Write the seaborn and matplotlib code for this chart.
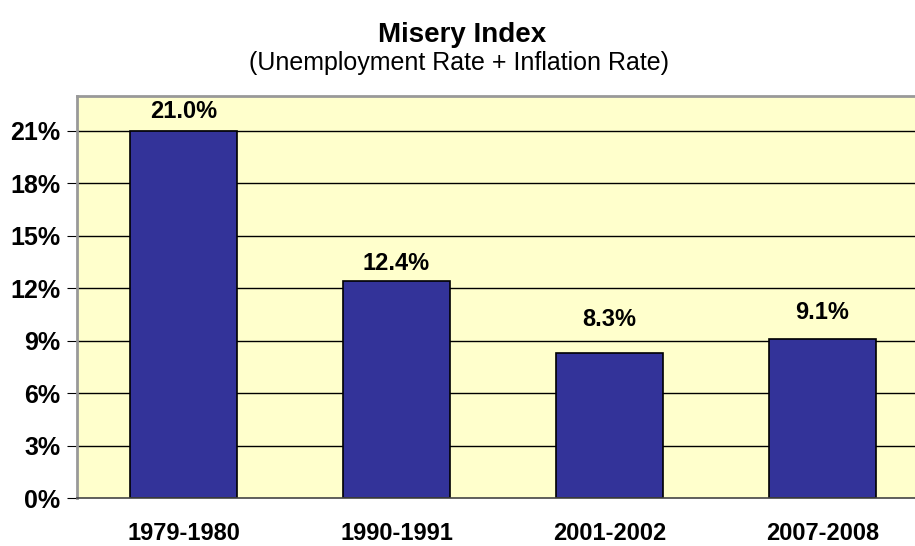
import matplotlib
matplotlib.use("Agg")
import matplotlib.pyplot as plt
import seaborn as sns
import pandas as pd

# chart values
periods = ["1979-1980", "1990-1991", "2001-2002", "2007-2008"]
misery = [21.0, 12.4, 8.3, 9.1]
y_ticks = [0, 3, 6, 9, 12, 15, 18, 21]

# label gap above each bar (points), as placed in the original
label_gap = [9.4, 8.0, 19.0, 14.0]

df = pd.DataFrame({"period": periods, "misery": misery})

sns.set_style("white")
plt.rcParams["font.family"] = ["Liberation Sans", "DejaVu Sans"]
plt.rcParams["text.color"] = "black"
plt.rcParams["xtick.color"] = "black"
plt.rcParams["ytick.color"] = "black"

fig = plt.figure(figsize=(9.15, 5.46), dpi=100)
ax = fig.add_axes([77 / 915, 1 - 498 / 546, 852 / 915, (498 - 95.7) / 546])
ax.set_facecolor("#FFFFCC")

# gridlines behind bars
for t in y_ticks[1:]:
    ax.axhline(t, color="black", linewidth=1, zorder=0)

sns.barplot(data=df, x="period", y="misery", color="#333399", saturation=1,
            width=0.5, edgecolor="black", linewidth=1.2, ax=ax, zorder=2)

for i, v in enumerate(misery):
    ax.annotate(f"{v:.1f}%", (i, v), xytext=(0, label_gap[i]), textcoords="offset points",
                ha="center", va="baseline", fontsize=17, fontweight="bold")

ax.set_xlim(-0.5, 3.5)
ax.set_ylim(0, 23)
ax.set_yticks(y_ticks)
ax.set_yticklabels([f"{t}%" for t in y_ticks], fontsize=18, fontweight="bold")
ax.set_xticklabels(periods, fontsize=17, fontweight="bold")
ax.set_xticks([0.5, 1.5, 2.5], minor=True)
ax.tick_params(axis="x", which="major", length=0, pad=17)
ax.tick_params(axis="x", which="minor", length=7, color="#555555", direction="out")
ax.tick_params(axis="y", length=7, color="black", direction="out", left=True, pad=5)
ax.set_xlabel("")
ax.set_ylabel("")

for side in ["top", "left"]:
    ax.spines[side].set_color("#999999")
    ax.spines[side].set_linewidth(2)
ax.spines["bottom"].set_color("#444444")
ax.spines["bottom"].set_linewidth(1.2)
ax.spines["right"].set_visible(False)

fig.text(462 / 915, 1 - 42 / 546, "Misery Index", ha="center", va="baseline",
         fontsize=20, fontweight="bold")
fig.text(459 / 915, 1 - 70 / 546, "(Unemployment Rate + Inflation Rate)",
         ha="center", va="baseline", fontsize=18)

fig.savefig("out.png", dpi=100)
